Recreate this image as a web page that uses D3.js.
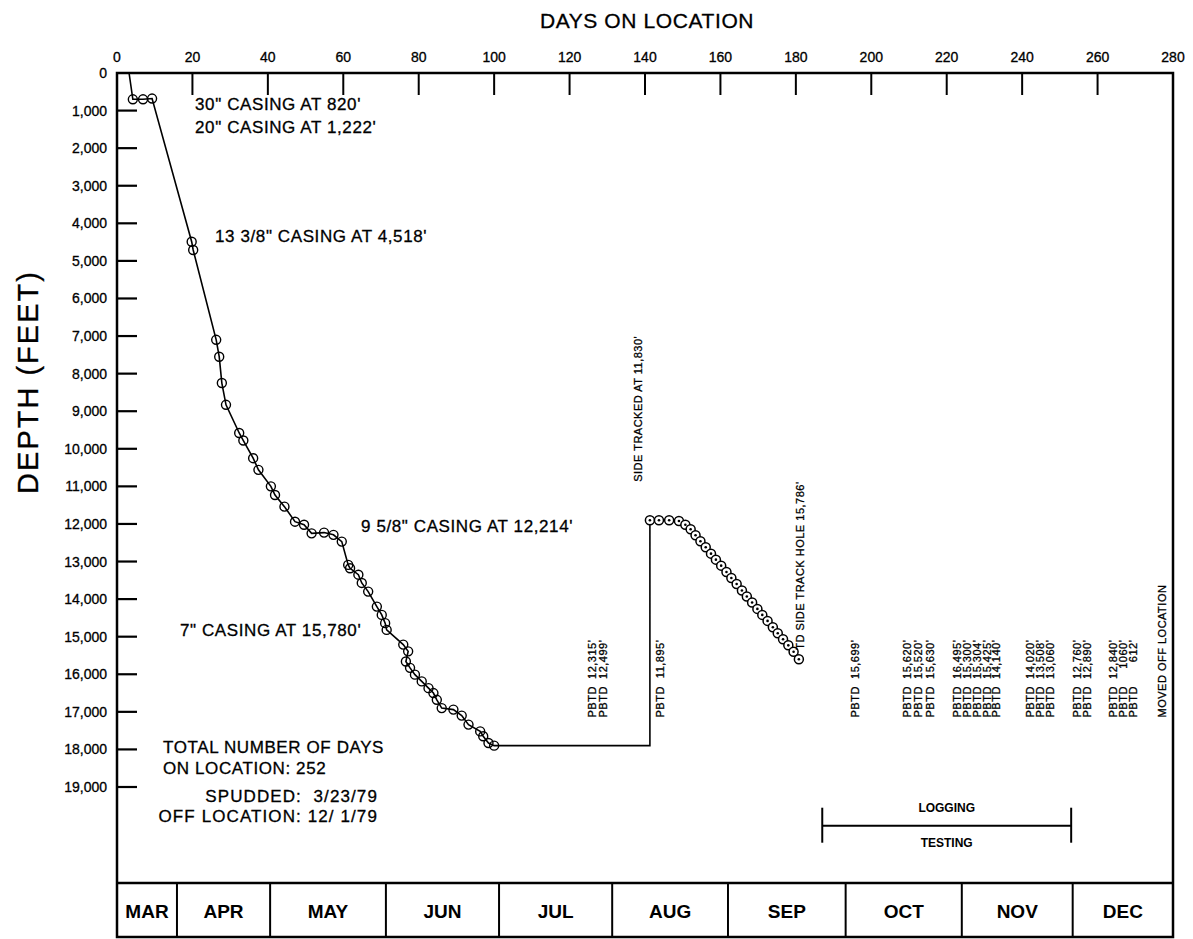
<!DOCTYPE html>
<html>
<head>
<meta charset="utf-8">
<script src="https://cdn.jsdelivr.net/npm/d3@7"></script>
<style>
  body { margin: 0; background: #fff; }
  svg { display: block; font-family: "Liberation Sans", Arial, sans-serif; }
  .ink { stroke: #000; stroke-width: 0.3px; }
</style>
</head>
<body>
<div id="chart"></div>
<script>
// axis ticks
var dayTicks = [0, 20, 40, 60, 80, 100, 120, 140, 160, 180, 200, 220, 240, 260, 280];
var depthTicks = [0, 1000, 2000, 3000, 4000, 5000, 6000, 7000, 8000, 9000, 10000,
  11000, 12000, 13000, 14000, 15000, 16000, 17000, 18000, 19000];

// original hole: circled daily readings (days on location / depth in feet)
var spudDay = 3.2;
var holeDays = [4.2, 6.9, 9.3, 19.8, 20.2, 26.3, 27.1, 27.8, 28.9, 32.4, 33.5, 36.1, 37.5,
  40.8, 41.9, 44.4, 47.2, 49.6, 51.6, 54.9, 57.4, 59.6, 61.3, 61.8, 64.0, 64.9, 66.6, 68.9,
  70.2, 71.1, 71.5, 75.9, 77.2, 76.6, 77.7, 79.0, 80.8, 82.6, 83.9, 84.8, 86.1, 89.2, 91.4,
  93.2, 96.3, 97.1, 98.5, 100.0];
var holeDepths = [700, 700, 680, 4490, 4710, 7100, 7550, 8250, 8830, 9580, 9780, 10250, 10560,
  11000, 11230, 11540, 11940, 12020, 12250, 12230, 12290, 12470, 13090, 13180, 13350, 13570,
  13800, 14200, 14420, 14640, 14820, 15210, 15390, 15660, 15830, 16010, 16190, 16370, 16500,
  16680, 16900, 16940, 17100, 17340, 17520, 17650, 17830, 17900];

// plugged back, then side track
var plugBackDay = 141.3, plugBackDepth = 17900;
var sideDays = [141.3, 143.7, 146.4, 149.0, 150.7, 152.1, 153.4, 154.7, 156.1, 157.5, 158.8,
  160.2, 161.6, 162.9, 164.3, 165.7, 167.0, 168.4, 169.8, 171.1, 172.5, 173.9, 175.2, 176.6,
  178.0, 179.4, 180.8];
var sideDepths = [11900, 11900, 11900, 11920, 12020, 12140, 12300, 12460, 12620, 12790, 12950,
  13110, 13280, 13440, 13600, 13770, 13930, 14090, 14260, 14420, 14580, 14750, 14910, 15070,
  15230, 15400, 15600];

// calendar band
var months = ["MAR", "APR", "MAY", "JUN", "JUL", "AUG", "SEP", "OCT", "NOV", "DEC"];
var monthStarts = [0, 15.9, 40.6, 71.3, 101.3, 131.3, 162, 193.2, 224, 253.4, 280];

// horizontal notes: [day, depth, text, anchor, spacing]
var notes = [
  [20.7, 850, "30\" CASING AT 820'", "start", 0.6],
  [20.7, 1440, "20\" CASING AT 1,222'", "start", 0.6],
  [26.0, 4360, "13 3/8\" CASING AT 4,518'", "start", 0.6],
  [64.7, 12080, "9 5/8\" CASING AT 12,214'", "start", 0.6],
  [16.7, 14840, "7\" CASING AT 15,780'", "start", 0.6],
  [12.2, 17950, "TOTAL NUMBER OF DAYS", "start", 0.6],
  [12.2, 18510, "ON LOCATION: 252", "start", 0.6],
  [69.2, 19260, "SPUDDED:  3/23/79", "end", 1.1],
  [69.2, 19790, "OFF LOCATION: 12/ 1/79", "end", 1.1]
];

// vertical plug-back notes
var pbtdDays = [126.0, 128.9, 144.0, 195.7, 209.5, 212.4, 215.6, 222.7, 225.4, 228.1, 230.7,
  233.1, 242.1, 244.8, 247.4, 254.6, 257.2, 264.1, 266.8, 269.4];
var pbtdValues = ["12,315'", "12,499'", "11,895'", "15,699'", "15,620'", "15,520'", "15,630'",
  "16,495'", "15,300'", "15,304'", "15,425'", "14,140'", "14,020'", "13,508'", "13,060'",
  "12,760'", "12,890'", "12,840'", "1060'", "612'"];
var pbtdTop = 15080, pbtdBottom = 17150;

// other vertical notes: [day, bottom depth, text]
var sideNotes = [
  [138.2, 10880, "SIDE TRACKED AT 11,830'"],
  [181.1, 15350, "TD SIDE TRACK HOLE 15,786'"],
  [277.1, 17150, "MOVED OFF LOCATION"]
];

var loggingDays = [187, 253];
var loggingDepth = 20030;

var W = 1193, H = 939;
var bandTop = 883, bandBottom = 937;

var svg = d3.select("#chart").append("svg")
  .attr("width", W).attr("height", H);

var x = d3.scaleLinear().domain([0, 280]).range([117, 1173]);
var y = d3.scaleLinear().domain([0, 19000]).range([73, 787]);

// frame
svg.append("rect")
  .attr("x", x(0)).attr("y", y(0))
  .attr("width", x(280) - x(0)).attr("height", bandBottom - y(0))
  .attr("fill", "none").attr("stroke", "#000").attr("stroke-width", 2.5);

// top axis
svg.selectAll(".tt").data(dayTicks.slice(1, -1)).enter().append("line")
  .attr("x1", d => x(d)).attr("x2", d => x(d))
  .attr("y1", y(0)).attr("y2", y(0) + 22)
  .attr("stroke", "#000").attr("stroke-width", 2);
svg.selectAll(".tl").data(dayTicks).enter().append("text")
  .attr("class", "ink")
  .attr("x", d => x(d)).attr("y", 57)
  .attr("text-anchor", "middle").attr("dominant-baseline", "central")
  .style("font-size", "14px").text(d => d);

svg.append("text")
  .attr("class", "ink")
  .attr("x", 647).attr("y", 20)
  .attr("text-anchor", "middle").attr("dominant-baseline", "central")
  .style("font-size", "21px").style("letter-spacing", "0.6px")
  .text("DAYS ON LOCATION");

// left axis
var fmt = d3.format(",");
svg.selectAll(".lt").data(depthTicks.slice(1)).enter().append("line")
  .attr("x1", x(0)).attr("x2", x(0) + 20)
  .attr("y1", d => y(d)).attr("y2", d => y(d))
  .attr("stroke", "#000").attr("stroke-width", 2.2);
svg.selectAll(".ll").data(depthTicks).enter().append("text")
  .attr("class", "ink")
  .attr("x", 107).attr("y", d => y(d))
  .attr("text-anchor", "end").attr("dominant-baseline", "central")
  .style("font-size", "14px").text(d => fmt(d));

svg.append("text")
  .attr("class", "ink")
  .attr("transform", "translate(28,382) rotate(-90)")
  .attr("text-anchor", "middle").attr("dominant-baseline", "central")
  .style("font-size", "29px").style("letter-spacing", "2px")
  .text("DEPTH (FEET)");

// depth curve
var pts = [[spudDay, 0]];
holeDays.forEach((d, i) => pts.push([d, holeDepths[i]]));
pts.push([plugBackDay, plugBackDepth]);
sideDays.forEach((d, i) => pts.push([d, sideDepths[i]]));

var line = d3.line().x(d => x(d[0])).y(d => y(d[1]));
svg.append("path").datum(pts)
  .attr("d", line).attr("fill", "none")
  .attr("stroke", "#000").attr("stroke-width", 1.6);

svg.selectAll(".hc").data(holeDays).enter().append("circle")
  .attr("cx", d => x(d)).attr("cy", (d, i) => y(holeDepths[i]))
  .attr("r", 4.5).attr("fill", "none").attr("stroke", "#000").attr("stroke-width", 1.4);

var side = svg.selectAll(".sc").data(sideDays).enter().append("g");
side.append("circle")
  .attr("cx", d => x(d)).attr("cy", (d, i) => y(sideDepths[i]))
  .attr("r", 4.5).attr("fill", "#fff").attr("stroke", "#000").attr("stroke-width", 1.5);
side.append("circle")
  .attr("cx", d => x(d)).attr("cy", (d, i) => y(sideDepths[i]))
  .attr("r", 1.3).attr("fill", "#000");

// horizontal notes
svg.selectAll(".nt").data(notes).enter().append("text")
  .attr("class", "ink")
  .attr("x", d => x(d[0])).attr("y", d => y(d[1]))
  .attr("text-anchor", d => d[3]).attr("dominant-baseline", "central")
  .style("font-size", "17px").style("letter-spacing", d => d[4] + "px")
  .style("white-space", "pre")
  .text(d => d[2]);

// vertical PBTD notes
var pb = svg.selectAll(".pb").data(pbtdDays).enter().append("g")
  .attr("class", "ink")
  .style("font-size", "11px").style("letter-spacing", "0.5px");
pb.append("text")
  .attr("transform", d => "translate(" + (x(d) + 4) + "," + y(pbtdBottom) + ") rotate(-90)")
  .attr("text-anchor", "start").text("PBTD");
pb.append("text")
  .attr("transform", d => "translate(" + (x(d) + 4) + "," + y(pbtdTop) + ") rotate(-90)")
  .attr("text-anchor", "end").text((d, i) => pbtdValues[i]);

svg.selectAll(".sn").data(sideNotes).enter().append("text")
  .attr("class", "ink")
  .attr("transform", d => "translate(" + (x(d[0]) + 4) + "," + y(d[1]) + ") rotate(-90)")
  .attr("text-anchor", "start")
  .style("font-size", "11px").style("letter-spacing", "0.5px")
  .text(d => d[2]);

// logging / testing bracket
var ly = y(loggingDepth);
svg.append("line")
  .attr("x1", x(loggingDays[0])).attr("x2", x(loggingDays[1]))
  .attr("y1", ly).attr("y2", ly)
  .attr("stroke", "#000").attr("stroke-width", 2);
svg.selectAll(".lg").data(loggingDays).enter().append("line")
  .attr("x1", d => x(d)).attr("x2", d => x(d))
  .attr("y1", ly - 18).attr("y2", ly + 17)
  .attr("stroke", "#000").attr("stroke-width", 2);
var lmid = (x(loggingDays[0]) + x(loggingDays[1])) / 2;
svg.append("text").attr("x", lmid).attr("y", ly - 18)
  .attr("text-anchor", "middle").attr("dominant-baseline", "central")
  .style("font-size", "12px").style("font-weight", "bold").text("LOGGING");
svg.append("text").attr("x", lmid).attr("y", ly + 17)
  .attr("text-anchor", "middle").attr("dominant-baseline", "central")
  .style("font-size", "12px").style("font-weight", "bold").text("TESTING");

// month band
svg.append("line")
  .attr("x1", x(0)).attr("x2", x(280))
  .attr("y1", bandTop).attr("y2", bandTop)
  .attr("stroke", "#000").attr("stroke-width", 2.5);
svg.selectAll(".md").data(monthStarts.slice(1, -1)).enter().append("line")
  .attr("x1", d => x(d)).attr("x2", d => x(d))
  .attr("y1", bandTop).attr("y2", bandBottom)
  .attr("stroke", "#000").attr("stroke-width", 2);
svg.selectAll(".mt").data(months).enter().append("text")
  .attr("x", (d, i) => (x(monthStarts[i]) + x(monthStarts[i + 1])) / 2)
  .attr("y", (bandTop + bandBottom) / 2 + 1)
  .attr("text-anchor", "middle").attr("dominant-baseline", "central")
  .style("font-size", "19px").style("font-weight", "bold")
  .text(d => d);
</script>
</body>
</html>
